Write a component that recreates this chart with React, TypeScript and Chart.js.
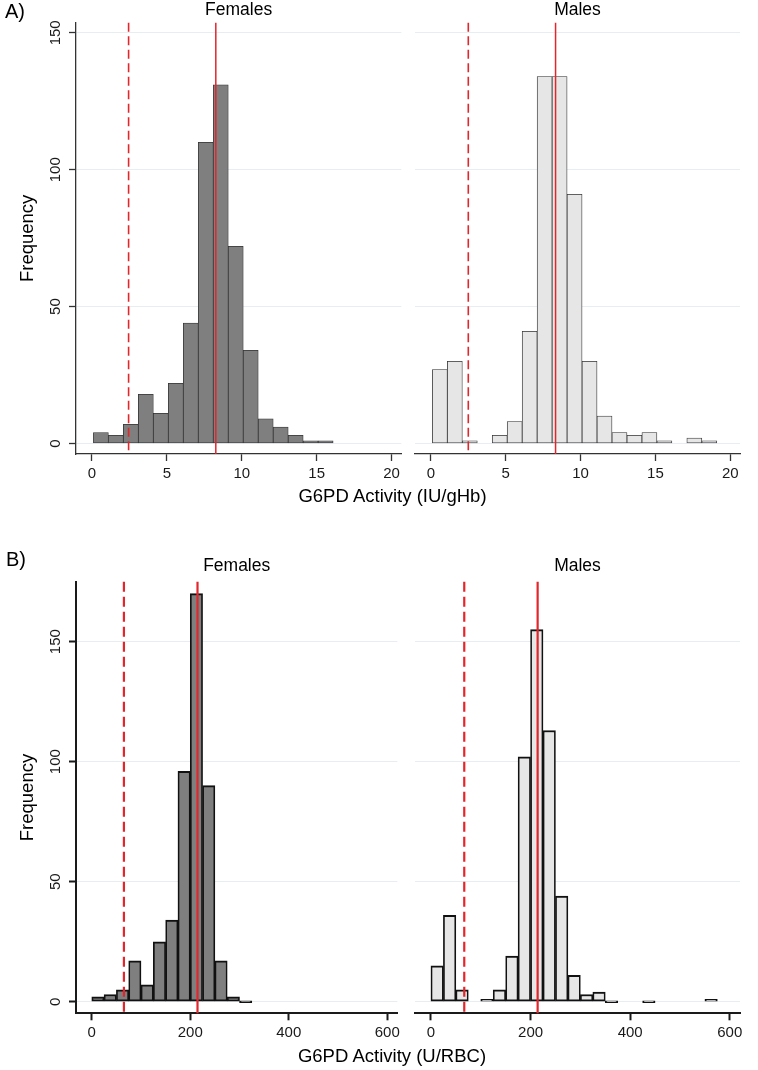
import React, { useEffect, useRef } from 'react';
import { Chart, registerables } from 'chart.js';

Chart.register(...registerables);

const FONT = "'Liberation Sans', Arial, Helvetica, sans-serif";
Chart.defaults.font.family = FONT;
Chart.defaults.color = '#000';

// ---------- Panel A: G6PD activity (IU/gHb) ----------
const aBinStart = 0.1;
const aBinWidth = 1;
const aFemaleCounts = [4, 3, 7, 18, 11, 22, 44, 110, 131, 72, 34, 9, 6, 3, 1, 1];
const aMaleCounts = [27, 30, 1, null, 3, 8, 41, 134, 134, 91, 30, 10, 4, 3, 4, 1, null, 2, 1];
const aFemaleMedian = 8.27;
const aFemaleCutoff = 2.45;
const aMaleMedian = 8.33;
const aMaleCutoff = 2.5;
const aXTicks = [0, 5, 10, 15, 20];
const aYTicks = [0, 50, 100, 150];
const aXRange = [-1.06, 20.65];
const aYRange = [-3.84, 153.7];

// ---------- Panel B: G6PD activity (U/RBC) ----------
const bBinStart = 0;
const bBinWidth = 25;
const bFemaleCounts = [2, 3, 5, 17, 7, 25, 34, 96, 170, 90, 17, 2, 0];
const bMaleCounts = [15, 36, 5, null, 1, 5, 19, 102, 155, 113, 44, 11, 3, 4, 0, null, null, 0, null, null, null, null, 1];
const bFemaleMedian = 214.7;
const bFemaleCutoff = 65.3;
const bMaleMedian = 214.2;
const bMaleCutoff = 66.9;
const bXTicks = [0, 200, 400, 600];
const bYTicks = [0, 50, 100, 150];
const bXRange = [-32, 620.5];
const bYRange = [-4.83, 175];

const panelTitles = ['Females', 'Males'];
const yTitle = 'Frequency';
const aXTitle = 'G6PD Activity (IU/gHb)';
const bXTitle = 'G6PD Activity (U/RBC)';

const RED = '#e2262c';
const GRID = '#e6eef1';

const refLinePlugin = {
  id: 'refLines',
  afterDatasetsDraw(chart: any, _args: any, opts: any) {
    const lines = opts && opts.lines ? opts.lines : [];
    const { ctx, chartArea, scales } = chart;
    const x = scales.x;
    lines.forEach((l: any) => {
      const px = x.getPixelForValue(l.value);
      ctx.save();
      ctx.strokeStyle = l.color;
      ctx.lineWidth = l.width;
      ctx.setLineDash(l.dash || []);
      ctx.beginPath();
      ctx.moveTo(px, chartArea.top);
      ctx.lineTo(px, chartArea.bottom);
      ctx.stroke();
      ctx.restore();
    });
  },
};

type PanelCfg = {
  left: number;
  top: number;
  width: number;
  height: number;
  padLeft: number;
  padRight: number;
  titlePadBottom: number;
  xAxisHeight: number;
  showY: boolean;
  title: string;
  counts: (number | null)[];
  binStart: number;
  binWidth: number;
  xRange: number[];
  yRange: number[];
  xTicks: number[];
  yTicks: number[];
  fill: string;
  barBorder: any;
  barBorderColor: string;
  minBarLength: number;
  axisColor: string;
  axisWidth: number;
  median: number;
  cutoff: number;
  solidWidth: number;
  dashWidth: number;
  dash: number[];
};

function buildConfig(c: PanelCfg): any {
  const data = c.counts.map((v, i) => ({ x: c.binStart + (i + 0.5) * c.binWidth, y: v }));
  const yScale: any = c.showY
    ? {
        type: 'linear',
        min: c.yRange[0],
        max: c.yRange[1],
        afterBuildTicks: (s: any) => {
          s.ticks = c.yTicks.map((v) => ({ value: v }));
        },
        afterFit: (s: any) => {
          s.width = 76;
        },
        grid: {
          color: GRID,
          lineWidth: 1,
          drawTicks: true,
          tickLength: 7,
          tickColor: c.axisColor,
          tickWidth: c.axisWidth,
        },
        border: { display: true, color: c.axisColor, width: c.axisWidth },
        ticks: {
          minRotation: 90,
          maxRotation: 90,
          crossAlign: 'center',
          padding: 1,
          autoSkip: false,
          color: '#1a1a1a',
          font: { family: FONT, size: 15 },
        },
        title: {
          display: true,
          text: yTitle,
          color: '#000',
          font: { family: FONT, size: 18.5 },
          padding: { top: 16.4, bottom: 0 },
        },
      }
    : {
        type: 'linear',
        min: c.yRange[0],
        max: c.yRange[1],
        afterBuildTicks: (s: any) => {
          s.ticks = c.yTicks.map((v) => ({ value: v }));
        },
        afterFit: (s: any) => {
          s.width = 0;
        },
        grid: { color: GRID, lineWidth: 1, drawTicks: false },
        border: { display: false },
        ticks: { display: false },
      };

  return {
    type: 'bar',
    data: {
      datasets: [
        {
          data,
          backgroundColor: c.fill,
          borderColor: c.barBorderColor,
          borderWidth: c.barBorder,
          borderSkipped: false,
          barPercentage: 1,
          categoryPercentage: 1,
          minBarLength: c.minBarLength,
        },
      ],
    },
    options: {
      responsive: false,
      animation: false,
      devicePixelRatio: 1,
      layout: { padding: { left: c.padLeft, right: c.padRight, top: 0, bottom: 0 } },
      plugins: {
        legend: { display: false },
        tooltip: { enabled: false },
        title: {
          display: true,
          text: c.title,
          fullSize: false,
          color: '#000',
          font: { family: FONT, size: 17.5, weight: 'normal' },
          padding: { top: 0, bottom: c.titlePadBottom },
        },
        refLines: {
          lines: [
            { value: c.cutoff, color: RED, width: c.dashWidth, dash: c.dash },
            { value: c.median, color: RED, width: c.solidWidth, dash: [] },
          ],
        },
      },
      scales: {
        x: {
          type: 'linear',
          min: c.xRange[0],
          max: c.xRange[1],
          offset: false,
          afterBuildTicks: (s: any) => {
            s.ticks = c.xTicks.map((v) => ({ value: v }));
          },
          afterFit: (s: any) => {
            s.height = c.xAxisHeight;
          },
          grid: {
            display: true,
            offset: false,
            drawOnChartArea: false,
            drawTicks: true,
            tickLength: 7,
            tickColor: c.axisColor,
            tickWidth: c.axisWidth,
          },
          border: { display: true, color: c.axisColor, width: c.axisWidth },
          ticks: {
            autoSkip: false,
            maxRotation: 0,
            minRotation: 0,
            padding: 4,
            color: '#1a1a1a',
            font: { family: FONT, size: 15 },
          },
        },
        y: yScale,
      },
    },
    plugins: [refLinePlugin],
  };
}

function HistPanel({ cfg }: { cfg: PanelCfg }) {
  const ref = useRef<HTMLCanvasElement | null>(null);
  useEffect(() => {
    if (!ref.current) return;
    const chart = new Chart(ref.current, buildConfig(cfg));
    return () => chart.destroy();
  }, []);
  return (
    <canvas
      ref={ref}
      width={cfg.width}
      height={cfg.height}
      style={{ position: 'absolute', left: cfg.left, top: cfg.top, width: cfg.width, height: cfg.height }}
    />
  );
}

const aCommon = {
  top: 0,
  height: 486,
  titlePadBottom: 1.7,
  xAxisHeight: 32,
  binStart: aBinStart,
  binWidth: aBinWidth,
  xRange: aXRange,
  yRange: aYRange,
  xTicks: aXTicks,
  yTicks: aYTicks,
  barBorder: 0.8,
  barBorderColor: '#333333',
  minBarLength: 0,
  axisColor: '#333333',
  axisWidth: 1.3,
  solidWidth: 1.5,
  dashWidth: 1.6,
  dash: [9, 4.5],
};

const bCommon = {
  top: 556,
  height: 490,
  titlePadBottom: 4.7,
  xAxisHeight: 32.7,
  binStart: bBinStart,
  binWidth: bBinWidth,
  xRange: bXRange,
  yRange: bYRange,
  xTicks: bXTicks,
  yTicks: bYTicks,
  barBorder: { top: 2, bottom: 2, left: 1.7, right: 1.7 },
  barBorderColor: '#111111',
  minBarLength: 2,
  axisColor: '#1a1a1a',
  axisWidth: 2,
  solidWidth: 2.2,
  dashWidth: 2.2,
  dash: [10, 5],
};

const leftGeom = { left: 0, width: 404, padLeft: 0, padRight: 2, showY: true };
const rightGeom = { left: 404, width: 354, padLeft: 11, padRight: 18, showY: false };

const panels: PanelCfg[] = [
  { ...aCommon, ...leftGeom, title: panelTitles[0], counts: aFemaleCounts, fill: '#7f7f7f', median: aFemaleMedian, cutoff: aFemaleCutoff } as PanelCfg,
  { ...aCommon, ...rightGeom, title: panelTitles[1], counts: aMaleCounts, fill: '#e6e6e6', median: aMaleMedian, cutoff: aMaleCutoff } as PanelCfg,
  { ...bCommon, ...leftGeom, title: panelTitles[0], counts: bFemaleCounts, fill: '#7f7f7f', median: bFemaleMedian, cutoff: bFemaleCutoff } as PanelCfg,
  { ...bCommon, ...rightGeom, title: panelTitles[1], counts: bMaleCounts, fill: '#e6e6e6', median: bMaleMedian, cutoff: bMaleCutoff } as PanelCfg,
];

const textBase: React.CSSProperties = {
  position: 'absolute',
  fontFamily: FONT,
  color: '#000',
  whiteSpace: 'nowrap',
};

export default function App() {
  return (
    <div style={{ position: 'absolute', left: 0, top: 0, width: 758, height: 1070, background: '#fff', overflow: 'hidden' }}>
      {panels.map((p, i) => (
        <HistPanel key={i} cfg={p} />
      ))}
      <div style={{ ...textBase, left: 5, top: 0.8, fontSize: 20, lineHeight: '20px' }}>A)</div>
      <div style={{ ...textBase, left: 6, top: 549.3, fontSize: 20, lineHeight: '20px' }}>B)</div>
      <div style={{ ...textBase, left: 192.5, width: 400, textAlign: 'center', top: 485, fontSize: 18.5, lineHeight: '22px' }}>{aXTitle}</div>
      <div style={{ ...textBase, left: 192, width: 400, textAlign: 'center', top: 1045, fontSize: 18.5, lineHeight: '22px' }}>{bXTitle}</div>
    </div>
  );
}
